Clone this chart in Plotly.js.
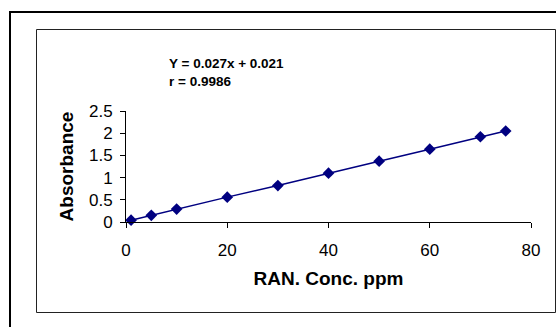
<!DOCTYPE html>
<html>
<head>
<meta charset="utf-8">
<script src="https://cdn.plot.ly/plotly-3.0.1.min.js"></script>
<style>html,body{margin:0;padding:0;background:#fff;}#chart{width:556px;height:327px;}</style>
</head>
<body>
<div id="chart"></div>
<script>
const concentration = [1, 5, 10, 20, 30, 40, 50, 60, 70, 75];
const absorbance = [0.04, 0.15, 0.29, 0.56, 0.82, 1.10, 1.37, 1.64, 1.92, 2.05];
const equationText = "Y = 0.027x + 0.021";
const rText = "r = 0.9986";
const xTitle = "RAN. Conc. ppm";
const yTitle = "Absorbance";

const L = 126, R = 531, T = 111, B = 222;
const W = 556, H = 327;
const px = v => (v - L) / (R - L);
const py = v => (B - v) / (B - T);

const trace = {
  x: concentration, y: absorbance,
  type: 'scatter', mode: 'lines+markers',
  line: {color: '#000080', width: 1.5},
  marker: {symbol: 'diamond', size: 9, color: '#000080'},
  cliponaxis: false, showlegend: false
};

const layout = {
  width: W, height: H,
  margin: {l: L, r: W - R, t: T, b: H - B, pad: 0},
  paper_bgcolor: '#fff', plot_bgcolor: '#fff',
  font: {family: 'Arial, "Liberation Sans", sans-serif', color: '#000', size: 17},
  xaxis: {
    range: [0, 80], dtick: 20, tick0: 0, showgrid: false, zeroline: false,
    showline: true, linecolor: '#000', linewidth: 1,
    ticks: 'outside', ticklen: 5, tickcolor: '#000',
    tickfont: {size: 17}, ticklabelstandoff: 8,
    title: {text: xTitle, font: {size: 19, weight: 'bold'}, standoff: 12}
  },
  yaxis: {
    range: [0, 2.5], dtick: 0.5, tick0: 0, showgrid: false, zeroline: false,
    showline: true, linecolor: '#000', linewidth: 1,
    ticks: 'outside', ticklen: 5, tickcolor: '#000',
    tickfont: {size: 17}, ticklabelstandoff: 4,
    title: {text: yTitle, font: {size: 19, weight: 'bold'}, standoff: 10}
  },
  annotations: [
    {xref: 'paper', yref: 'paper', x: px(167), y: py(63), xanchor: 'left', yanchor: 'middle',
     text: '<b>' + equationText + '</b>', showarrow: false, font: {size: 13.5}},
    {xref: 'paper', yref: 'paper', x: px(167), y: py(81), xanchor: 'left', yanchor: 'middle',
     text: '<b>' + rText + '</b>', showarrow: false, font: {size: 13.5}}
  ],
  shapes: [
    {type: 'rect', xref: 'paper', yref: 'paper', x0: px(10), x1: px(600), y0: py(400), y1: py(12),
     line: {color: '#000', width: 2}, layer: 'below'},
    {type: 'rect', xref: 'paper', yref: 'paper', x0: px(36.5), x1: px(555.5), y0: py(312.5), y1: py(29.5),
     line: {color: '#222', width: 1}, layer: 'below'}
  ]
};

Plotly.newPlot('chart', [trace], layout, {displayModeBar: false, staticPlot: true});
</script>
</body>
</html>
